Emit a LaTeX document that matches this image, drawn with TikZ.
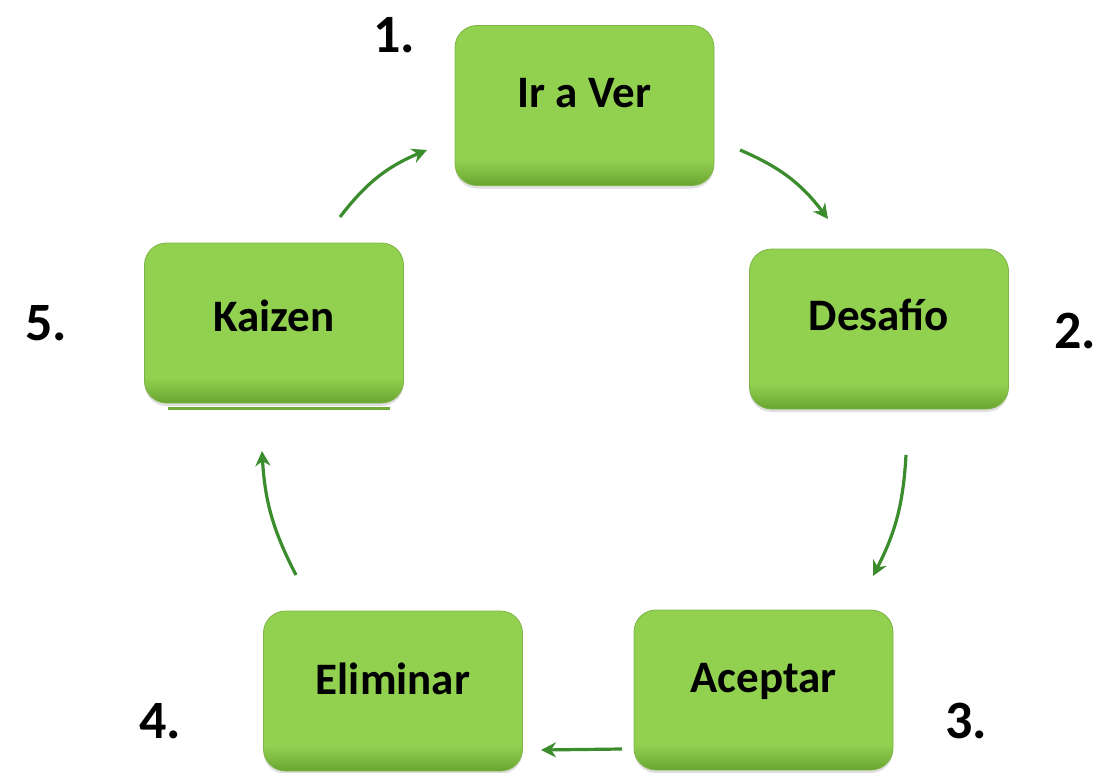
\documentclass[tikz,border=0pt]{standalone}
\usepackage{fontspec}
\setmainfont{Carlito}
\usetikzlibrary{arrows.meta,shadows}
\definecolor{gmain}{RGB}{146,208,80}
\definecolor{gdark}{RGB}{104,164,48}
\definecolor{gedge}{RGB}{125,180,70}
\definecolor{arr}{RGB}{58,140,44}
\pgfdeclareverticalshading{boxshade}{100bp}{color(0bp)=(gdark); color(25bp)=(gdark); color(28bp)=(gdark!60!gmain); color(33bp)=(gmain); color(100bp)=(gmain)}
\begin{document}
\begin{tikzpicture}[x=1pt,y=-1pt,
  stepbox/.style={rounded corners=22pt, minimum width=259pt, minimum height=160pt,
    shading=boxshade, draw=gedge, line width=0.8pt,
    drop shadow={shadow xshift=0pt, shadow yshift=-3pt, opacity=0.25},
    font=\fontsize{45}{54}\selectfont\bfseries},
  numlbl/.style={font=\fontsize{54}{60}\selectfont\bfseries, inner sep=0pt},
  flow/.style={draw=arr, line width=3.2pt, -{Stealth[length=15pt,width=15pt]}}]
\useasboundingbox (0,0) rectangle (1113,773);
\node[stepbox] (b1) at (584.5,105.5) {\raisebox{26pt}{Ir a Ver}};
\node[stepbox] (b2) at (879,329) {\raisebox{29pt}{Desafío}};
\node[stepbox] (b3) at (763.5,690) {\raisebox{25pt}{Aceptar}};
\node[stepbox] (b4) at (393,691) {\raisebox{25pt}{Eliminar}};
\node[stepbox] (b5) at (274,323) {\raisebox{14pt}{Kaizen}};
\draw[gdark!80!gmain, line width=3pt] (168,408) -- (390,408);
\node[numlbl] (n1) at (394,35) {1.};
\node[numlbl] (n2) at (1075,331) {2.};
\node[numlbl] (n3) at (966,721) {3.};
\node[numlbl] (n4) at (160,721) {4.};
\node[numlbl] (n5) at (46,323) {5.};
\coordinate (a1s) at (740,150); \coordinate (a1e) at (828,219);
\coordinate (a2s) at (906,455); \coordinate (a2e) at (873,576);
\coordinate (a3s) at (622,749); \coordinate (a3e) at (541,750);
\coordinate (a4s) at (296,575); \coordinate (a4e) at (262,451);
\coordinate (a5s) at (340,217); \coordinate (a5e) at (427,150);
\draw[flow] (a1s) to[bend left=15] (a1e);
\draw[flow] (a2s) to[bend left=12] (a2e);
\draw[flow] (a3s) -- (a3e);
\draw[flow] (a4s) to[bend left=12] (a4e);
\draw[flow] (a5s) to[bend left=15] (a5e);
\end{tikzpicture}
\end{document}
